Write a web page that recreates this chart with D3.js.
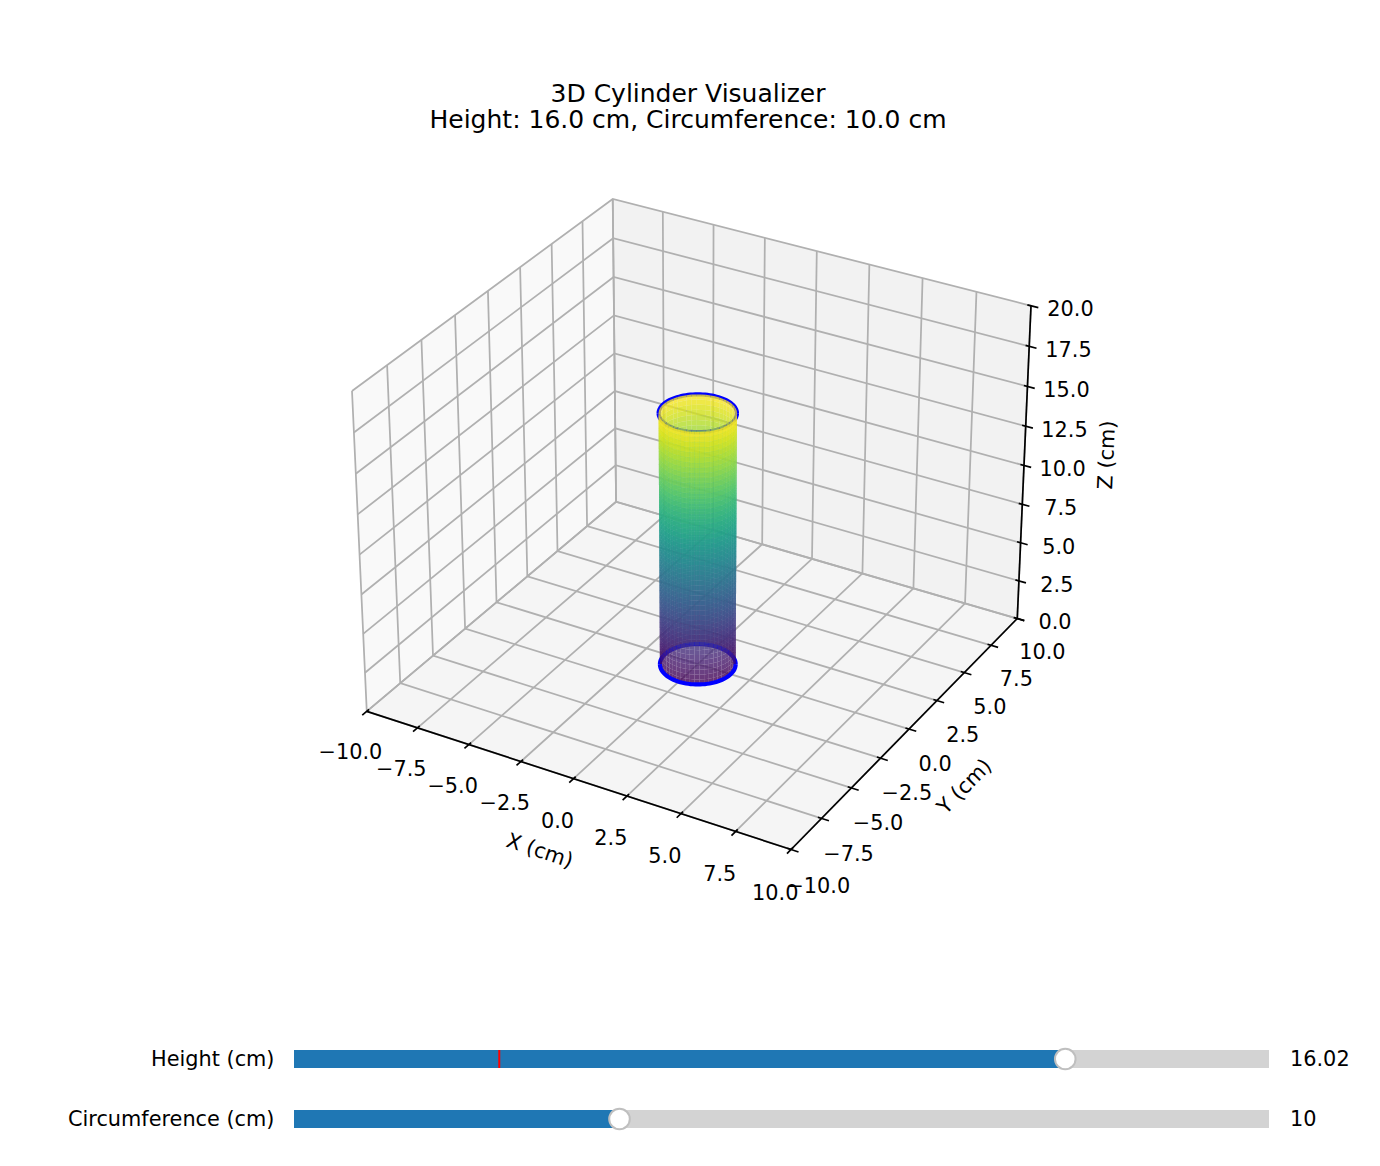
<!DOCTYPE html>
<html><head><meta charset="utf-8">
<script src="https://cdn.jsdelivr.net/npm/d3@7"></script>
<style>html,body{margin:0;padding:0;background:#fff}svg{display:block}text{font-family:"DejaVu Sans";fill:#000}</style>
</head><body><div id="chart"></div>
<script>
const W = 1380, H = 1166;
const titleLines = ["3D Cylinder Visualizer", "Height: 16.0 cm, Circumference: 10.0 cm"];
const xyTicks = [-10, -7.5, -5, -2.5, 0, 2.5, 5, 7.5, 10];
const zTicks = [0, 2.5, 5, 7.5, 10, 12.5, 15, 17.5, 20];
const cylinderHeight = 16;
const cylinderCircumference = 10;
const heightSlider = {label: "Height (cm)", min: 1, max: 20, val: 16.02, init: 5, text: "16.02"};
const circSlider = {label: "Circumference (cm)", min: 5, max: 20, val: 10, init: 10, text: "10"};
const meshSteps = 50;
const fmt = v => d3.format(".1f")(v).replace("-", "\u2212");

// mplot3d view: elev 30, azim -60, dist 10, box 4:4:3
const elev = 30 * Math.PI / 180, azim = -60 * Math.PI / 180, dist = 10;
const aspectNorm = Math.hypot(4, 4, 3), boxK = 1.8294640721620434 / aspectNorm;
const box = [4 * boxK, 4 * boxK, 3 * boxK];
const wx = d3.scaleLinear().domain([-10, 10]).range([0, box[0]]);
const wy = d3.scaleLinear().domain([-10, 10]).range([0, box[1]]);
const wz = d3.scaleLinear().domain([0, 20]).range([0, box[2]]);
const dirV = [Math.cos(elev) * Math.cos(azim), Math.cos(elev) * Math.sin(azim), Math.sin(elev)];
const R = box.map(b => b / 2);
const eye = R.map((r, i) => r + dist * dirV[i]);
const cross = (a, b) => [a[1]*b[2]-a[2]*b[1], a[2]*b[0]-a[0]*b[2], a[0]*b[1]-a[1]*b[0]];
const dot = (a, b) => a[0]*b[0]+a[1]*b[1]+a[2]*b[2];
const unit = a => { const l = Math.hypot(...a); return a.map(v => v / l); };
const n = unit(dirV), u = unit(cross([0, 0, 1], n)), v = cross(n, u);
function camera(x, y, z) {
  const p = [wx(x) - eye[0], wy(y) - eye[1], wz(z) - eye[2]];
  const w = -dot(p, n);
  return [dot(p, u) / w, dot(p, v) / w];
}
const sx = d3.scaleLinear().domain([camera(-10, -10, 20)[0], camera(10, 10, 20)[0]]).range([352, 1031]);
const sy = d3.scaleLinear().domain([camera(-10, 10, 20)[1], camera(10, -10, 0)[1]]).range([199, 849.5]);
const proj = (x, y, z) => { const c = camera(x, y, z); return [sx(c[0]), sy(c[1])]; };
const line = d3.line();

const svg = d3.select("#chart").append("svg").attr("width", W).attr("height", H).attr("viewBox", `0 0 ${W} ${H}`);
svg.append("rect").attr("width", W).attr("height", H).attr("fill", "#fff");

svg.append("g").selectAll("text").data(titleLines).join("text")
  .attr("x", 688).attr("y", (d, i) => 101.5 + i * 26.5).attr("text-anchor", "middle")
  .attr("font-size", 25).text(d => d);

// panes
const panes = [
  {pts: [[-10,-10,0],[-10,10,0],[-10,10,20],[-10,-10,20]], fill: "#f9f9f9"},
  {pts: [[-10,10,0],[10,10,0],[10,10,20],[-10,10,20]], fill: "#f2f2f2"},
  {pts: [[-10,-10,0],[10,-10,0],[10,10,0],[-10,10,0]], fill: "#f5f5f5"}
];
svg.append("g").selectAll("path").data(panes).join("path")
  .attr("d", d => line(d.pts.map(p => proj(...p))) + "Z").attr("fill", d => d.fill);

// grid
const gridSegs = [];
xyTicks.forEach(t => {
  gridSegs.push([[t, -10, 0], [t, 10, 0], [t, 10, 20]]);
  gridSegs.push([[10, t, 0], [-10, t, 0], [-10, t, 20]]);
});
zTicks.forEach(t => gridSegs.push([[-10, -10, t], [-10, 10, t], [10, 10, t]]));
svg.append("g").selectAll("path").data(gridSegs).join("path")
  .attr("d", d => line(d.map(p => proj(...p)))).attr("fill", "none")
  .attr("stroke", "#b0b0b0").attr("stroke-width", 1.75).attr("stroke-linejoin", "miter");

// axes
const axisLines = [
  [[-10, -10, 0], [10, -10, 0]], [[10, -10, 0], [10, 10, 0]], [[10, 10, 0], [10, 10, 20]]
];
svg.append("g").selectAll("path").data(axisLines).join("path")
  .attr("d", d => line(d.map(p => proj(...p)))).attr("fill", "none")
  .attr("stroke", "#000").attr("stroke-width", 1.67);

const tickIn = 20 / 12 * 0.1, tickOut = 20 / 12 * 0.2;
const tickG = svg.append("g").attr("stroke", "#000").attr("stroke-width", 1.67);
const seg = (a, b) => tickG.append("path").attr("d", line([proj(...a), proj(...b)]));
xyTicks.forEach(t => {
  seg([t, -10 + tickIn, 0], [t, -10 - tickOut, 0]);
  seg([10 - tickIn, t, 0], [10 + tickOut, t, 0]);
});
zTicks.forEach(t => seg([10 - tickIn, 10, t], [10 + tickOut, 10, t]));

const labelG = svg.append("g").attr("font-size", 20.83).attr("text-anchor", "middle");
const place = (p, s) => labelG.append("text").attr("x", p[0]).attr("y", p[1]).attr("dy", "0.36em").text(s);
xyTicks.forEach(t => {
  const a = proj(t, -11.5, -1.5);
  place([a[0] + 3, a[1]], fmt(t));
  const b = proj(11.1, t, -1.5);
  place([b[0] + 3, b[1] + 4], fmt(t));
});
zTicks.forEach(t => {
  const c = proj(11.5, 10.7, t);
  place([c[0] - 1, c[1] + 1.5], fmt(t));
});

const rotLabel = (x, y, a, s) => svg.append("text").attr("transform", `translate(${x},${y}) rotate(${a})`)
  .attr("text-anchor", "middle").attr("dy", "0.36em").attr("font-size", 20.83).text(s);
rotLabel(540, 850, 18.5, "X (cm)");
rotLabel(964, 786, -45.6, "Y (cm)");
rotLabel(1106, 455, -87.4, "Z (cm)");

// cylinder: open tube, 50 x 50 mesh, with a ring at each end
const radius = cylinderCircumference / (2 * Math.PI);
const color = d3.scaleSequential(d3.interpolateViridis).domain([0, cylinderHeight]);
const thetas = d3.range(meshSteps + 1).map(i => i / meshSteps * 2 * Math.PI);
const zs = d3.range(meshSteps + 1).map(i => i / meshSteps * cylinderHeight);
const isFront = t => Math.cos(t) * dirV[0] + Math.sin(t) * dirV[1] > 0;
// half rings run across the silhouette, from the viewing azimuth -90 deg to +90 deg
const arcAngles = (side) => d3.range(meshSteps + 1).map(i => azim + side * Math.PI + (i / meshSteps - 0.5) * Math.PI);
const arcPts = (z, side) => arcAngles(side).map(t => proj(radius * Math.cos(t), radius * Math.sin(t), z));
const facets = [];
d3.range(meshSteps).forEach(i => d3.range(meshSteps).forEach(j => {
  const t0 = thetas[i], t1 = thetas[i + 1];
  facets.push({
    front: isFront((t0 + t1) / 2),
    z: (zs[j] + zs[j + 1]) / 2,
    pts: [[t0, zs[j]], [t1, zs[j]], [t1, zs[j + 1]], [t0, zs[j + 1]]]
      .map(q => proj(radius * Math.cos(q[0]), radius * Math.sin(q[0]), q[1]))
  });
}));
const cyl = svg.append("g");
const drawFacets = data => cyl.append("g").selectAll("path").data(data).join("path")
  .attr("d", d => line(d.pts) + "Z").attr("fill", d => color(d.z)).attr("fill-opacity", 0.8).attr("stroke", "none");
const drawArc = (z, side) => cyl.append("path").attr("d", line(arcPts(z, side)))
  .attr("fill", "none").attr("stroke", "#0000ff").attr("stroke-width", 4.17);

drawArc(cylinderHeight, 0);
drawArc(cylinderHeight, 1);
drawFacets(facets.filter(f => !f.front));
drawArc(0, 1);
drawFacets(facets.filter(f => f.front));
drawArc(0, 0);

// sliders
const sliderG = svg.append("g");
[[heightSlider, 1059], [circSlider, 1119]].forEach(([s, cy]) => {
  const x = d3.scaleLinear().domain([s.min, s.max]).range([294, 1269]);
  sliderG.append("rect").attr("x", 294).attr("y", cy - 9).attr("width", 975).attr("height", 18).attr("fill", "#d3d3d3");
  sliderG.append("rect").attr("x", 294).attr("y", cy - 9).attr("width", x(s.val) - 294).attr("height", 18).attr("fill", "#1f77b4");
  sliderG.append("line").attr("x1", x(s.init)).attr("x2", x(s.init)).attr("y1", cy - 9).attr("y2", cy + 9)
    .attr("stroke", "#ff0000").attr("stroke-width", 2);
  sliderG.append("circle").attr("cx", x(s.val) + 0.5).attr("cy", cy).attr("r", 10.3)
    .attr("fill", "#fff").attr("stroke", "#bfbfbf").attr("stroke-width", 2);
  sliderG.append("text").attr("x", 274.5).attr("y", cy - 0.5).attr("dy", "0.36em").attr("text-anchor", "end")
    .attr("font-size", 20.83).text(s.label);
  sliderG.append("text").attr("x", 1290).attr("y", cy - 0.5).attr("dy", "0.36em")
    .attr("font-size", 20.83).text(s.text);
});
</script></body></html>
